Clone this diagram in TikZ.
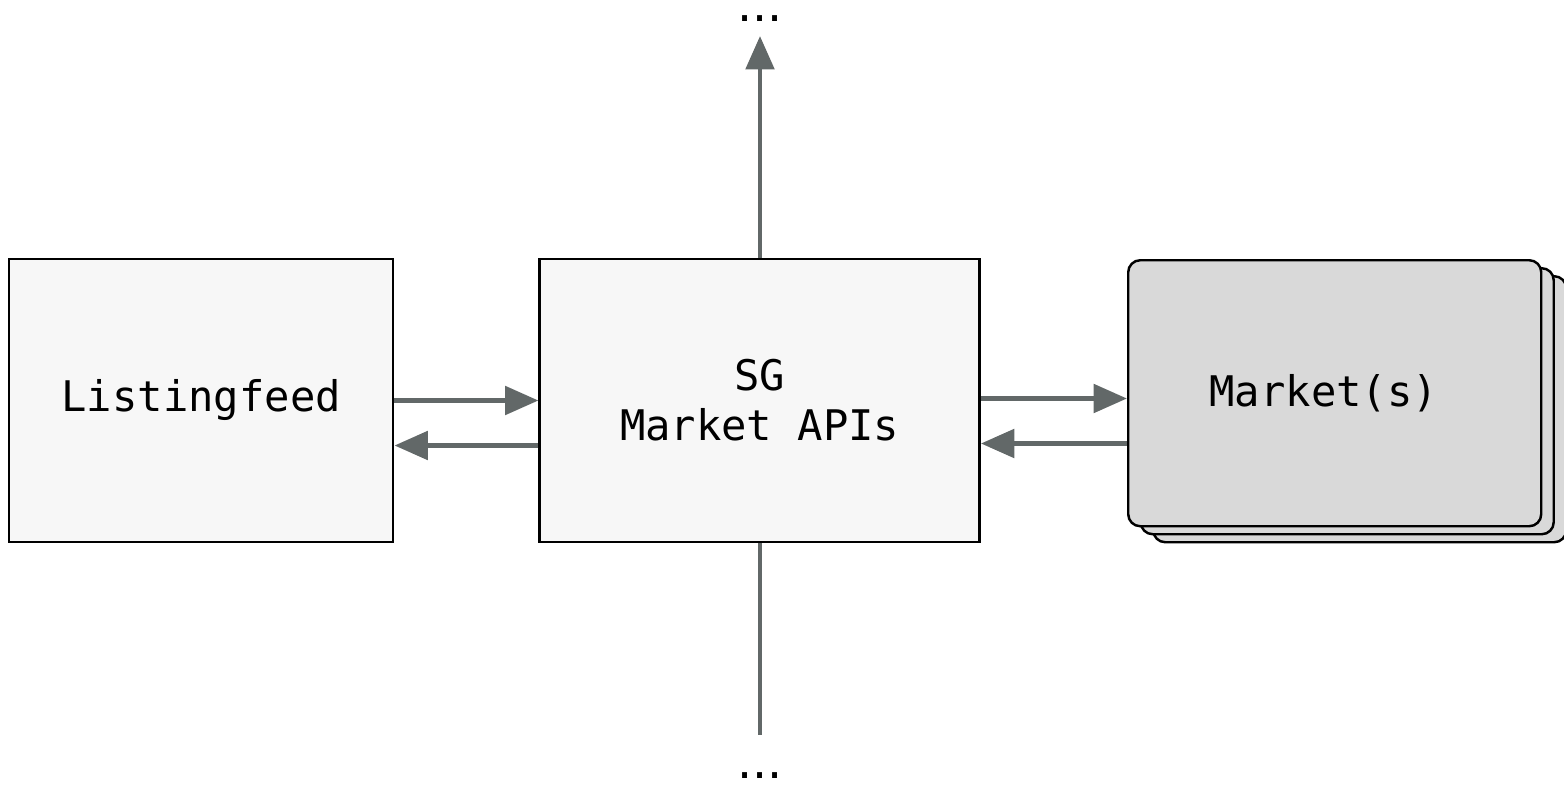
\documentclass[tikz,border=0pt]{standalone}
\usepackage{fontspec}
\setmainfont{DejaVu Sans}
\setmonofont{DejaVu Sans Mono}
\usetikzlibrary{positioning, arrows.meta, shadows}

\definecolor{boxfill}{HTML}{F7F7F7}
\definecolor{mktfill}{HTML}{D9D9D9}
\definecolor{linkgray}{HTML}{626868}

\begin{document}
\begin{tikzpicture}[node distance = {14.4mm},
	box/.style = {draw, line width=0.7pt, fill=boxfill, minimum height=2.83cm, font=\ttfamily\fontsize{12}{14.2}\selectfont, align=center},
	market/.style = {box, fill=mktfill, rounded corners=0.12cm, minimum width=4.13cm, minimum height=2.66cm,
		double copy shadow={shadow xshift=0.125cm, shadow yshift=-0.08cm, fill=mktfill, draw, line width=0.7pt}},
	link/.style = {draw=linkgray, line width=1.4pt, -{Triangle[length=9.5pt, width=8pt]}},
	dots/.style = {inner sep=0pt, anchor=base, font=\fontsize{13.5}{14}\selectfont}]
	\useasboundingbox (0,0) rectangle (15.64,-7.91);
	\node[box, minimum width=3.84cm, anchor=west] (feed) at (0.08,-4.005) {Listingfeed};
	\node[box, minimum width=4.40cm] (api) [right=of feed] {SG\\Market APIs};
	\node[market, anchor=north west] (mkt) at (11.27,-2.59) {\raisebox{0.05cm}{Market(s)}\hspace*{0.22cm}};
	\node[dots] (topdots) at (7.60,-0.21) {...};
	\node[dots] (botdots) at (7.60,-7.78) {...};
	\coordinate (uptip) at (7.60,-0.36);
	\coordinate (downend) at (7.60,-7.35);
	\draw[link] (feed.east) -- (api.west);
	\draw[link] ([yshift=-0.45cm]api.west) -- ([yshift=-0.45cm]feed.east);
	\draw[link] ([yshift=0.02cm]api.east) -- ([yshift=0.02cm]api.east -| mkt.west);
	\draw[link] ([yshift=-0.43cm]api.east -| mkt.west) -- ([yshift=-0.43cm]api.east);
	\draw[link] (uptip |- api.north) -- (uptip);
	\draw[link, -] (downend |- api.south) -- (downend);
\end{tikzpicture}
\end{document}
